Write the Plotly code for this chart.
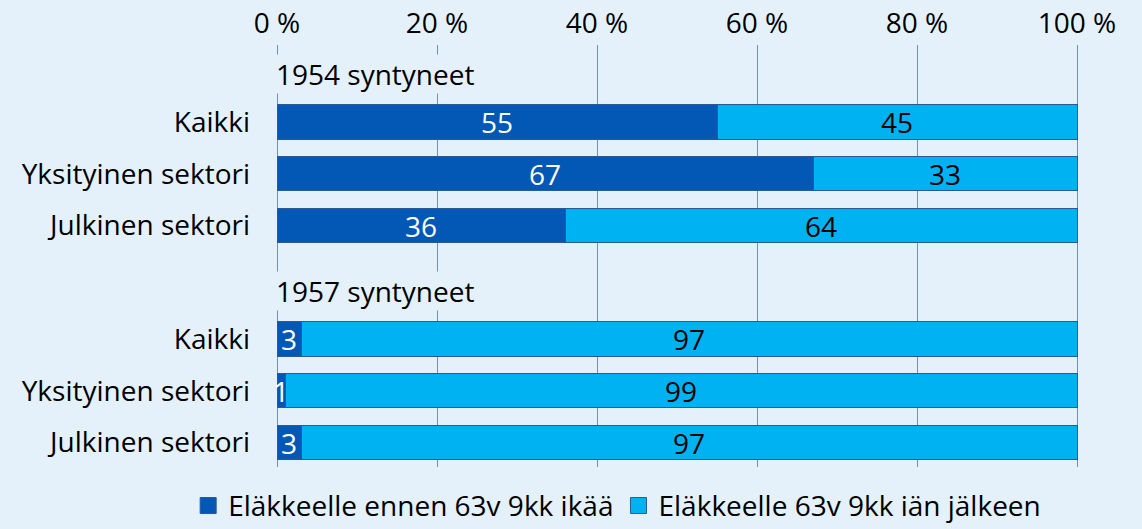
import plotly.graph_objects as go
from plotly.subplots import make_subplots

# ---- data ----
groups = ["1954 syntyneet", "1957 syntyneet"]
categories = ["Kaikki", "Yksityinen sektori", "Julkinen sektori"]
before_1954 = [55, 67, 36]
after_1954 = [45, 33, 64]
before_1957 = [3, 1, 3]
after_1957 = [97, 99, 97]
series_names = ["Eläkkeelle ennen 63v 9kk ikää", "Eläkkeelle 63v 9kk iän jälkeen"]
tick_vals = [0, 20, 40, 60, 80, 100]
tick_text = ["0 %", "20 %", "40 %", "60 %", "80 %", "100 %"]

# ---- style ----
BG = "#E4F1FB"
DARK = "#0357B5"
LIGHT = "#00B2F2"
EDGE = "#2A5A92"
GRID = "#7390B3"
FONT = "Open Sans"
FS = 28

fig = make_subplots(rows=2, cols=1, shared_xaxes=True, vertical_spacing=0)

data_rows = [(before_1954, after_1954), (before_1957, after_1957)]
for r, (bef, aft) in enumerate(data_rows, start=1):
    fig.add_trace(go.Bar(
        y=categories, x=bef, orientation="h", name=series_names[0],
        marker=dict(color=DARK, line=dict(color=EDGE, width=1)),
        text=[str(v) for v in bef], textposition="inside", insidetextanchor="middle",
        textangle=0,
        textfont=dict(color="white", size=FS, family=FONT), constraintext="none",
        showlegend=False, hoverinfo="x+y",
    ), row=r, col=1)
    fig.add_trace(go.Bar(
        y=categories, x=aft, orientation="h", name=series_names[1],
        marker=dict(color=LIGHT, line=dict(color=EDGE, width=1)),
        text=[str(v) for v in aft], textposition="inside", insidetextanchor="middle",
        textangle=0,
        textfont=dict(color="black", size=FS, family=FONT), constraintext="none",
        showlegend=False, hoverinfo="x+y",
    ), row=r, col=1)

# legend entries with square symbols
for name, col in zip(series_names, [DARK, LIGHT]):
    fig.add_trace(go.Scatter(
        x=[None], y=[None], mode="markers", name=name,
        marker=dict(symbol="square", size=24, color=col, line=dict(color=EDGE, width=1)),
        showlegend=True, hoverinfo="skip",
    ), row=1, col=1)

fig.update_layout(
    barmode="stack",
    bargap=0.34,
    width=1142, height=529,
    margin=dict(l=275, r=63, t=45, b=62, autoexpand=False),
    paper_bgcolor=BG, plot_bgcolor=BG,
    font=dict(family=FONT, size=FS, color="black"),
    uniformtext=dict(mode="show", minsize=FS),
    legend=dict(orientation="h", x=-0.108, xanchor="left", y=-0.092, yanchor="middle",
                font=dict(size=FS, family=FONT), bgcolor="rgba(0,0,0,0)",
                traceorder="normal", itemwidth=30, tracegroupgap=0),
)

xcommon = dict(range=[-0.25, 100.25], tickvals=tick_vals, ticktext=tick_text,
               showgrid=True, gridcolor=GRID, gridwidth=1, zeroline=False,
               showline=False, ticks="", fixedrange=True)
fig.update_layout(
    xaxis=dict(**xcommon, side="top", showticklabels=True, anchor="y", ticklabelstandoff=5),
    xaxis2=dict(**xcommon, showticklabels=False, anchor="y2"),
    yaxis=dict(domain=[0.5, 1.0], range=[2.589, -1.488], showgrid=False,
               showline=False, ticks="", ticklabelstandoff=24, fixedrange=True),
    yaxis2=dict(domain=[0.0, 0.5], range=[2.473, -1.604], showgrid=False,
                showline=False, ticks="", ticklabelstandoff=24, fixedrange=True),
)
fig.update_xaxes(showticklabels=True, row=1, col=1)
fig.update_xaxes(showticklabels=False, row=2, col=1)

for i, g in enumerate(groups):
    fig.add_annotation(
        text=g, x=0, y=-0.93, xref="x" if i == 0 else "x2", yref="y" if i == 0 else "y2",
        xanchor="left", yanchor="middle", showarrow=False,
        font=dict(size=FS, family=FONT, color="black"),
        bgcolor=BG, borderpad=0, xshift=-2,
    )

fig.write_html("out.html", config={"displayModeBar": False},
               post_script="document.body.style.margin='0';")
